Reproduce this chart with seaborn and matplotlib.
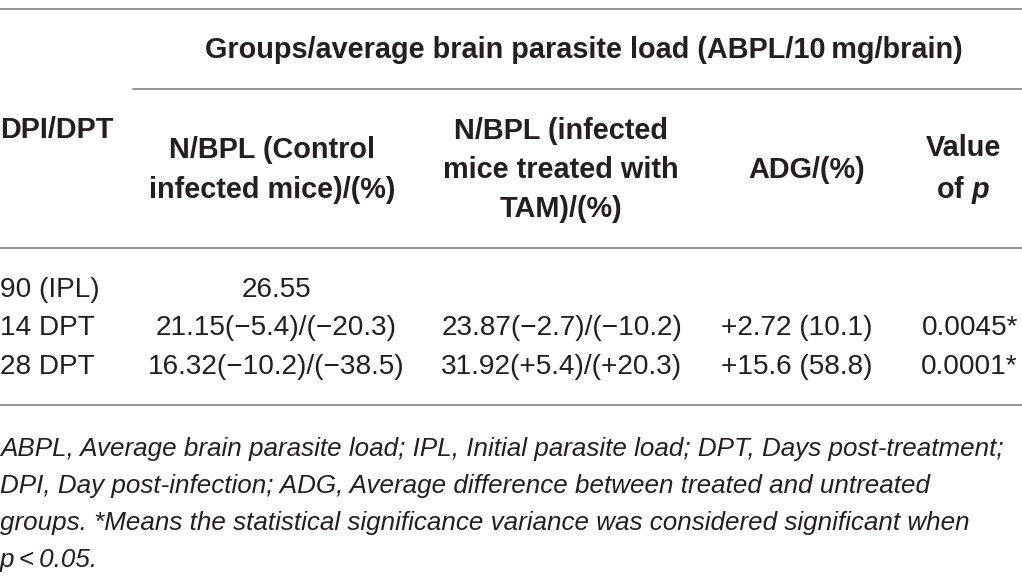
import matplotlib.pyplot as plt
import seaborn as sns

# table content
row_labels = ["90 (IPL)", "14 DPT", "28 DPT"]
control = ["26.55", "21.15(\u22125.4)/(\u221220.3)", "16.32(\u221210.2)/(\u221238.5)"]
treated = ["", "23.87(\u22122.7)/(\u221210.2)", "31.92(+5.4)/(+20.3)"]
adg = ["", "+2.72 (10.1)", "+15.6 (58.8)"]
p_values = ["", "0.0045*", "0.0001*"]

group_title = "Groups/average brain parasite load (ABPL/10\u2009mg/brain)"
col_headers = ["N/BPL (Control\ninfected mice)/(%)",
               "N/BPL (infected\nmice treated with\nTAM)/(%)",
               "ADG/(%)",
               "Value\nof $\\mathbfit{p}$"]
footnote = ["ABPL, Average brain parasite load; IPL, Initial parasite load; DPT, Days post-treatment;",
            "DPI, Day post-infection; ADG, Average difference between treated and untreated",
            "groups. *Means the statistical significance variance was considered significant when",
            "p\u2009<\u20090.05."]

sns.set_theme(style="white")
plt.rcParams["font.family"] = ["Liberation Sans", "DejaVu Sans"]
plt.rcParams["mathtext.fontset"] = "custom"
plt.rcParams["mathtext.bfit"] = "Liberation Sans:bold:italic"

ink = "#231f20"
rule = "#8c8c8c"
fs_head = 20.8
fs_body = 20.2
fs_note = 18.7

fig = plt.figure(figsize=(10.22, 5.76), dpi=100)
ax = fig.add_axes([0, 0, 1, 1])
ax.set_xlim(0, 1022)
ax.set_ylim(576, 0)
ax.axis("off")

# horizontal rules
ax.plot([0, 1022], [9, 9], color=rule, lw=1.3)
ax.plot([133, 1022], [89, 89], color=rule, lw=1.3)
ax.plot([0, 1022], [248, 248], color=rule, lw=1.3)
ax.plot([0, 1022], [405, 405], color=rule, lw=1.3)

# header
ax.text(584, 50, group_title, ha="center", va="center", fontsize=fs_head, fontweight="bold", color=ink)
ax.text(0, 130, "DPI/DPT", ha="left", va="center", fontsize=fs_head, fontweight="bold", color=ink)
col_x = [272, 561, 807, 963]
for x, h in zip(col_x, col_headers):
    ax.text(x, 170, h, ha="center", va="center", fontsize=fs_head, fontweight="bold",
            color=ink, linespacing=1.5, multialignment="center")

# body rows
row_y = [290, 328, 367]
for i, y in enumerate(row_y):
    ax.text(0, y, row_labels[i], ha="left", va="center", fontsize=fs_body, color=ink)
    ax.text(276, y, control[i], ha="center", va="center", fontsize=fs_body, color=ink)
    ax.text(562, y, treated[i], ha="center", va="center", fontsize=fs_body, color=ink)
    ax.text(797, y, adg[i], ha="center", va="center", fontsize=fs_body, color=ink)
    ax.text(1018, y, p_values[i], ha="right", va="center", fontsize=fs_body, color=ink)

# footnote
for j, line in enumerate(footnote):
    ax.text(0, 449 + 37 * j, line, ha="left", va="center", fontsize=fs_note,
            style="italic", color=ink)

fig.savefig("out.png", dpi=100)
